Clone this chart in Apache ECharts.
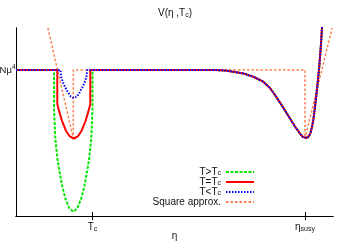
<!DOCTYPE html>
<html>
<head>
<meta charset="utf-8">
<script src="https://cdn.jsdelivr.net/npm/echarts/dist/echarts.min.js"></script>
<style>html,body{margin:0;padding:0;background:#fff}#c{width:350px;height:245px}</style>
</head>
<body>
<div id="c"></div>
<script>
// ---- data (η in arbitrary units with η_susy = 10, V in units of Nμ^4) ----
var TC = 2.647;
var ETA_SUSY = 10;
var xTickValues = [TC, ETA_SUSY];
var xTickLabels = ['T_c', 'η_susy'];
var yTickValues = [1];
var yTickLabels = ['Nμ^4'];
var seriesNames = ['T>T_c', 'T=T_c', 'T<T_c', 'Square approx.'];

// shared right-hand branch (all temperatures)
var rightEta = [6.886, 7.232, 7.519, 7.865, 8.211, 8.557, 8.789, 8.962, 9.135, 9.308, 9.481, 9.654, 9.827, 9.931, 10.000, 10.069, 10.138, 10.190, 10.242, 10.294, 10.346, 10.398, 10.450, 10.502, 10.554, 10.588, 10.609];
var rightV   = [1.000, 0.997, 0.988, 0.977, 0.954, 0.920, 0.877, 0.829, 0.777, 0.723, 0.668, 0.613, 0.565, 0.541, 0.531, 0.534, 0.548, 0.568, 0.610, 0.664, 0.747, 0.836, 0.932, 1.041, 1.178, 1.288, 1.356];

// T > Tc
var greenEta = [0, 1.318, 1.318, 1.360, 1.429, 1.498, 1.602, 1.706, 1.844, 1.983, 2.121, 2.260, 2.363, 2.467, 2.536, 2.606, 2.647, 2.647];
var greenV   = [1, 1.000, 0.726, 0.534, 0.398, 0.312, 0.203, 0.121, 0.053, 0.029, 0.053, 0.121, 0.203, 0.312, 0.398, 0.534, 0.726, 1.000];
// T = Tc
var redEta = [0, 1.429, 1.429, 1.481, 1.585, 1.723, 1.862, 2.000, 2.138, 2.277, 2.415, 2.519, 2.571, 2.571];
var redV   = [1, 1.000, 0.768, 0.727, 0.656, 0.586, 0.545, 0.531, 0.545, 0.586, 0.656, 0.727, 0.768, 1.000];
// T < Tc
var blueEta = [0, 1.533, 1.567, 1.619, 1.689, 1.792, 1.896, 2.000, 2.104, 2.208, 2.311, 2.381, 2.433, 2.467];
var blueV   = [1, 1.000, 0.952, 0.918, 0.887, 0.849, 0.818, 0.808, 0.818, 0.849, 0.887, 0.918, 0.952, 1.000];
// Square approximation
var sqEta = [1.104, 1.983, 1.983, 10.000, 10.000, 10.940];
var sqV   = [1.288, 0.531, 1.000, 1.000, 0.531, 1.288];

function pairs(xs, ys) { return xs.map(function (x, i) { return [x, ys[i]]; }); }
function withRight(xs, ys) { return pairs(xs, ys).concat(pairs(rightEta, rightV)); }

function richLabel(s) {
  var m = s.match(/^(.*)_(.*)$/);
  if (m) return '{m|' + m[1] + '}{sub|' + m[2] + '}';
  m = s.match(/^(.*)\^(.*)$/);
  if (m) return '{ym|' + m[1] + '}{sup|' + m[2] + '}';
  return '{m|' + s + '}';
}
var FONT = 'Liberation Sans, Arial, sans-serif';
var TXT = '#111';
var richStyles = {
  m:   { fontSize: 10, lineHeight: 12, fontFamily: FONT, fontWeight: 'normal', color: TXT },
  ym:  { fontSize: 9.5, lineHeight: 12, fontFamily: FONT, fontWeight: 'normal', color: TXT },
  sub: { fontSize: 7, lineHeight: 4, verticalAlign: 'bottom', fontFamily: FONT, fontWeight: 'normal', color: TXT },
  sup: { fontSize: 6.5, lineHeight: 4, verticalAlign: 'top', fontFamily: FONT, fontWeight: 'normal', color: TXT }
};
var legendRich = {
  m:   { fontSize: 10, lineHeight: 9.5, fontFamily: FONT, color: TXT },
  sub: { fontSize: 7, lineHeight: 4, verticalAlign: 'bottom', fontFamily: FONT, color: TXT }
};

var chart = echarts.init(document.getElementById('c'), null, { renderer: 'canvas' });
var axisLineStyle = { color: '#000', width: 1 };
chart.setOption({
  animation: false,
  backgroundColor: '#fff',
  title: {
    text: '{m|V(η ,T}{sub|c}{m|)}',
    left: 'center',
    top: 7,
    padding: 0,
    textStyle: { fontWeight: 'normal', rich: richStyles }
  },
  grid: { left: 16, right: 17, top: 28, bottom: 29, containLabel: false, outerBoundsMode: 'none' },
  legend: {
    orient: 'vertical',
    right: 95,
    top: 167,
    padding: 0,
    align: 'right',
    itemGap: 0,
    itemWidth: 28,
    itemHeight: 8,
    data: seriesNames,
    itemStyle: { opacity: 0 },
    formatter: function (name) {
      var m = name.match(/^(.*)_(.*)$/);
      return m ? '{m|' + m[1] + '}{sub|' + m[2] + '}' : '{m|' + name + '}';
    },
    textStyle: { fontSize: 10, lineHeight: 9.5, fontFamily: FONT, color: TXT, rich: legendRich }
  },
  xAxis: [{
    type: 'value', min: 0, max: 10.97, position: 'bottom',
    name: 'η', nameLocation: 'middle', nameGap: 15, nameMoveOverlap: false,
    nameTextStyle: { fontSize: 10, fontFamily: FONT, color: TXT },
    axisLine: { show: true, lineStyle: axisLineStyle },
    axisTick: { show: true, inside: true, length: 4, customValues: xTickValues, lineStyle: axisLineStyle },
    axisLabel: {
      show: true, margin: 5, customValues: xTickValues,
      formatter: function (v) {
        for (var i = 0; i < xTickValues.length; i++) if (Math.abs(v - xTickValues[i]) < 1e-6) return richLabel(xTickLabels[i]);
        return '';
      },
      rich: richStyles
    },
    splitLine: { show: false }
  }, {
    type: 'value', min: 0, max: 10.97, position: 'top',
    axisLine: { show: true, lineStyle: axisLineStyle },
    axisTick: { show: true, inside: true, length: 4, customValues: xTickValues, lineStyle: axisLineStyle },
    axisLabel: { show: false },
    splitLine: { show: false }
  }],
  yAxis: [{
    type: 'value', min: 0, max: 1.288, position: 'left',
    axisLine: { show: true, lineStyle: axisLineStyle },
    axisTick: { show: true, inside: true, length: 4, customValues: yTickValues, lineStyle: axisLineStyle },
    axisLabel: {
      show: true, margin: 0.5, customValues: yTickValues,
      formatter: function (v) {
        for (var i = 0; i < yTickValues.length; i++) if (Math.abs(v - yTickValues[i]) < 1e-6) return richLabel(yTickLabels[i]);
        return '';
      },
      rich: richStyles
    },
    splitLine: { show: false }
  }, {
    type: 'value', min: 0, max: 1.288, position: 'right',
    axisLine: { show: true, lineStyle: axisLineStyle },
    axisTick: { show: false },
    axisLabel: { show: false },
    splitLine: { show: false }
  }],
  series: [{
    name: seriesNames[3], type: 'line', symbol: 'none', data: pairs(sqEta, sqV), z: 1,
    lineStyle: { color: '#ff7f50', width: 1.5, type: [2.5, 2] }, itemStyle: { color: '#ff7f50' }
  }, {
    name: seriesNames[0], type: 'line', symbol: 'none', data: withRight(greenEta, greenV), z: 2,
    lineStyle: { color: '#00e600', width: 2, type: [3, 1.5] }, itemStyle: { color: '#00e600' }
  }, {
    name: seriesNames[1], type: 'line', symbol: 'none', data: withRight(redEta, redV), z: 3,
    lineStyle: { color: '#ff0000', width: 2, type: 'solid' }, itemStyle: { color: '#ff0000' }
  }, {
    name: seriesNames[2], type: 'line', symbol: 'none', data: withRight(blueEta, blueV), z: 4,
    lineStyle: { color: '#0000ff', width: 2, type: [1.5, 1.5] }, itemStyle: { color: '#0000ff' }
  }]
});
</script>
</body>
</html>
